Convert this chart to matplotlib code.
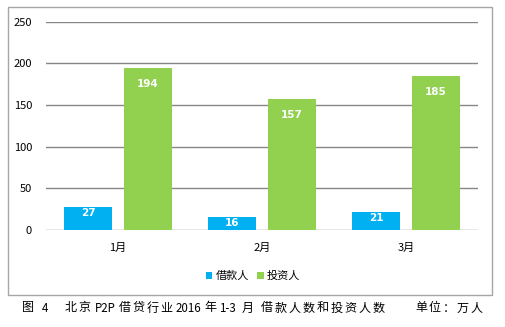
import matplotlib.pyplot as plt
import matplotlib.patches as patches
import numpy as np

plt.rcParams['font.family'] = ['Noto Sans CJK SC', 'DejaVu Sans']

# monthly borrower / investor counts (unit: 10k people)
months = ["1月", "2月", "3月"]
borrowers = [27, 16, 21]
investors = [194, 157, 185]
series_names = ["借款人", "投资人"]
y_ticks = [0, 50, 100, 150, 200, 250]
# caption words and the pixel column each word starts at
caption_words = ["图", "4", "北京", "P2P", "借贷行业", "2016", "年", "1-3", "月",
                 "借款人数和投资人数", "单位：万人"]
caption_cols = [21.5, 42.5, 64.5, 95.5, 118.3, 177.5, 204.3, 220, 242, 261, 415]

BLUE = "#00B0F0"
GREEN = "#92D050"
GRID = "#868686"

W, H = 506, 327
fig = plt.figure(figsize=(W / 100, H / 100), dpi=100)
ax = fig.add_axes([46 / W, 1 - 230 / H, 432 / W, (230 - 21.5) / H])

x = np.arange(len(months))
bw = 1 / 3
b1 = ax.bar(x - 0.208, borrowers, bw, color=BLUE, label=series_names[0], zorder=3)
b2 = ax.bar(x + 0.208, investors, bw, color=GREEN, label=series_names[1], zorder=3)

# value labels sit inside the bar tops
for bars, vals, off in ((b1, borrowers, 6), (b2, investors, 16)):
    for rect, v in zip(bars, vals):
        ax.annotate(str(v), (rect.get_x() + rect.get_width() / 2, v),
                    xytext=(0, -off * 0.72), textcoords="offset points",
                    ha="center", va="center", color="white",
                    fontsize=7.5, fontweight="bold", family="DejaVu Sans", zorder=4)

ax.set_xlim(-0.5, 2.5)
ax.set_ylim(0, 250)
ax.set_yticks(y_ticks)
ax.set_xticks(x)
ax.set_xticklabels(months)
ax.yaxis.grid(True, color=GRID, linewidth=1)
ax.set_axisbelow(True)
for s in ax.spines.values():
    s.set_visible(False)
ax.tick_params(length=0, labelsize=8, colors="black")
ax.tick_params(axis="y", pad=10)
ax.tick_params(axis="x", pad=9)

ax.legend(loc="center", bbox_to_anchor=(253 / W, 1 - 276 / H), bbox_transform=fig.transFigure,
          ncol=2, frameon=False, fontsize=8, handlelength=0.6, handleheight=0.6,
          handletextpad=0.3, columnspacing=0.7)

# outer frame around the chart
fig.patches.append(patches.Rectangle((8 / W, 1 - 295 / H), 484 / W, 288 / H,
                                     transform=fig.transFigure, fill=False,
                                     edgecolor="#A6A6A6", linewidth=1))

ascii_widths = {"4": 5.0, "P2P": 20.3, "2016": 22.3, "1-3": 15.0}

# caption is letter-spaced: Chinese glyphs go one at a time,
# latin words are drawn whole and centred on their span
cy = 1 - 308 / H
for word, col in zip(caption_words, caption_cols):
    if word.isascii():
        fig.text((col + ascii_widths[word] / 2) / W, cy, word, ha="center", va="center",
                 fontsize=8.3, color="#000000")
        continue
    pos = col
    for ch in word:
        fig.text((pos + 6.2) / W, cy, ch, ha="center", va="center",
                 fontsize=8.7, color="#000000")
        pos += 13.9

fig.savefig("out.png", dpi=100)
